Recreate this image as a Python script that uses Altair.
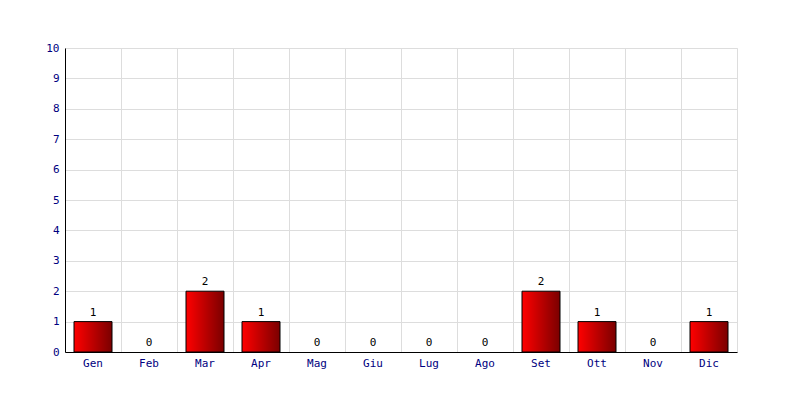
import altair as alt
import pandas as pd

months = ["Gen", "Feb", "Mar", "Apr", "Mag", "Giu", "Lug", "Ago", "Set", "Ott", "Nov", "Dic"]
values = [1, 0, 2, 1, 0, 0, 0, 0, 2, 1, 0, 1]
y_ticks = [0, 1, 2, 3, 4, 5, 6, 7, 8, 9, 10]

df = pd.DataFrame({"month": months, "value": values})

FONT = "DejaVu Sans Mono"

x = alt.X("month:N", sort=months, title=None,
          scale=alt.Scale(paddingInner=0, paddingOuter=0),
          axis=alt.Axis(labelAngle=0, bandPosition=0, grid=True, gridColor="#dddddd",
                        ticks=False, domainColor="black", labelColor="#000080",
                        labelFont=FONT, labelFontSize=11, labelPadding=5))
y = alt.Y("value:Q", title=None,
          scale=alt.Scale(domain=[0, 10], nice=False),
          axis=alt.Axis(values=y_ticks, labelOverlap=False, grid=True,
                        gridColor="#dddddd",
                        ticks=False, domainColor="black", labelColor="#000080",
                        labelFont=FONT, labelFontSize=11, labelPadding=6))

grad = alt.Gradient(gradient="linear",
                    stops=[alt.GradientStop(color="#ff0000", offset=0),
                           alt.GradientStop(color="#7a0000", offset=1)],
                    x1=0, x2=1, y1=0, y2=0)

base = alt.Chart(df).encode(x=x, y=y)

bars = base.mark_bar(width=38, color=grad, stroke="black", strokeWidth=1).transform_filter(
    "datum.value > 0")

labels = base.mark_text(dy=-9, font=FONT, fontSize=11, color="black").encode(text="value:Q")

chart = alt.layer(bars, labels).properties(
    width=672, height=304,
    autosize=alt.AutoSizeParams(type="none"),
    padding={"left": 57, "top": 40, "right": 55, "bottom": 40},
).configure_view(stroke="#dddddd")

chart.save("out.html", embed_options={"renderer": "svg", "actions": False})
